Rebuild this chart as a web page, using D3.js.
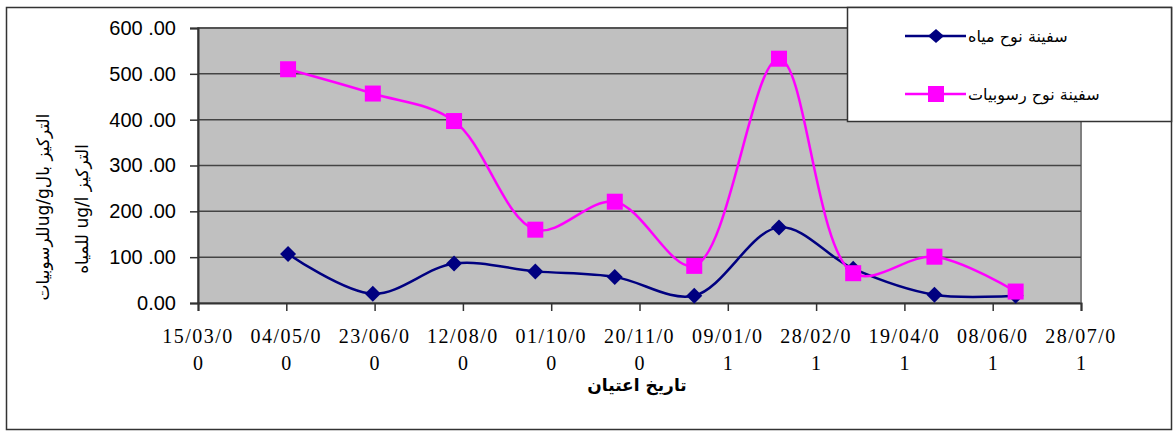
<!DOCTYPE html>
<html lang="ar">
<head>
<meta charset="UTF-8">
<script src="https://cdn.jsdelivr.net/npm/d3@7"></script>
<style>
  body { margin: 0; background: #fff; }
  svg { display: block; }
</style>
</head>
<body>
<script>
// ---------- data ----------
const sampleDates = ["2000-05-05", "2000-06-22", "2000-08-07", "2000-09-22", "2000-11-06",
                     "2000-12-21", "2001-02-07", "2001-03-21", "2001-05-06", "2001-06-21"];
const waterValues = [107, 20, 86, 69, 57, 16, 165, 75, 18, 16];
const sedimentValues = [510, 457, 397, 160, 221, 81, 533, 65, 101, 25];
const seriesNames = ["سفينة  نوح مياه", "سفينة نوح رسوبيات"];
const tickDates = ["2000-03-15", "2000-05-04", "2000-06-23", "2000-08-12", "2000-10-01", "2000-11-20",
                   "2001-01-09", "2001-02-28", "2001-04-19", "2001-06-08", "2001-07-28"];
const yTickValues = [0, 100, 200, 300, 400, 500, 600];
const yTickLabels = ["0.00", "100 .00", "200 .00", "300 .00", "400 .00", "500 .00", "600 .00"];
const xTitle = "تاريخ اعتيان";
const yTitle1 = "التركيز بالug/gللرسوبيات";
const yTitle2 = "التركيز ug/l للمياه";

// ---------- setup ----------
const W = 1173, H = 431;
const plot = { left: 198, right: 1081, top: 28, bottom: 303 };
const parse = d3.timeParse("%Y-%m-%d");

const svg = d3.select("body").append("svg")
    .attr("width", W).attr("height", H);

// outer chart border
svg.append("rect")
    .attr("x", 6.5).attr("y", 7.5)
    .attr("width", 1165).attr("height", 422)
    .attr("fill", "#fff").attr("stroke", "#333").attr("stroke-width", 1.5);

const x = d3.scaleTime()
    .domain([parse(tickDates[0]), parse(tickDates[tickDates.length - 1])])
    .range([plot.left, plot.right]);
const y = d3.scaleLinear().domain([0, 600]).range([plot.bottom, plot.top]);

// plot background
svg.append("rect")
    .attr("x", plot.left).attr("y", plot.top)
    .attr("width", plot.right - plot.left).attr("height", plot.bottom - plot.top)
    .attr("fill", "#c0c0c0").attr("stroke", "#808080").attr("stroke-width", 2);

// gridlines
svg.append("g").selectAll("line")
    .data(yTickValues.slice(1))
    .join("line")
    .attr("x1", plot.left).attr("x2", plot.right)
    .attr("y1", d => y(d)).attr("y2", d => y(d))
    .attr("stroke", "#444").attr("stroke-width", 1.5);

// y axis
const yAxis = svg.append("g")
    .attr("transform", `translate(${plot.left},0)`)
    .call(d3.axisLeft(y).tickValues(yTickValues).tickSize(8).tickFormat((d, i) => yTickLabels[i]));
yAxis.select(".domain").attr("stroke", "#333").attr("stroke-width", 2);
yAxis.selectAll(".tick line").attr("stroke", "#333").attr("stroke-width", 1.5);
yAxis.selectAll(".tick text")
    .attr("x", -22)
    .attr("font-family", "Liberation Sans, Arial, sans-serif")
    .attr("font-size", 20).attr("fill", "#000");

// x axis
const xAxis = svg.append("g")
    .attr("transform", `translate(0,${plot.bottom})`)
    .call(d3.axisBottom(x).tickValues(tickDates.map(parse)).tickSize(8).tickFormat(""));
xAxis.select(".domain").attr("stroke", "#333").attr("stroke-width", 2);
xAxis.selectAll(".tick line").attr("stroke", "#333").attr("stroke-width", 1.5);

const fmt = d3.timeFormat("%d/%m/%y");
const xl = svg.append("g").selectAll("text")
    .data(tickDates)
    .join("text")
    .attr("font-family", "Liberation Serif, Times New Roman, serif")
    .attr("font-size", 20).attr("text-anchor", "middle").attr("fill", "#000");
xl.append("tspan")
    .attr("x", d => x(parse(d))).attr("y", 343)
    .attr("letter-spacing", 1.5)
    .text(d => fmt(parse(d)).slice(0, 7));
xl.append("tspan")
    .attr("x", d => x(parse(d))).attr("y", 370)
    .text(d => fmt(parse(d)).slice(7));

// axis titles
svg.append("text")
    .attr("x", 637).attr("y", 391)
    .attr("text-anchor", "middle")
    .attr("font-family", "DejaVu Sans, sans-serif")
    .attr("font-weight", "bold").attr("font-size", 17)
    .text(xTitle);

svg.append("text")
    .attr("transform", "translate(49,207) rotate(-90)")
    .attr("text-anchor", "middle")
    .attr("direction", "rtl")
    .attr("font-family", "DejaVu Sans, sans-serif")
    .attr("font-size", 17)
    .text(yTitle1);
svg.append("text")
    .attr("transform", "translate(88,209) rotate(-90)")
    .attr("text-anchor", "middle")
    .attr("direction", "rtl")
    .attr("font-family", "DejaVu Sans, sans-serif")
    .attr("font-size", 17)
    .text(yTitle2);

// lines
const line = d3.line()
    .x(d => x(d.date)).y(d => y(d.v))
    .curve(d3.curveCatmullRom.alpha(0.5));

const water = sampleDates.map((d, i) => ({ date: parse(d), v: waterValues[i] }));
const sediment = sampleDates.map((d, i) => ({ date: parse(d), v: sedimentValues[i] }));

svg.append("path").datum(water)
    .attr("d", line).attr("fill", "none")
    .attr("stroke", "#000080").attr("stroke-width", 2.5);
svg.append("path").datum(sediment)
    .attr("d", line).attr("fill", "none")
    .attr("stroke", "#ff00ff").attr("stroke-width", 2.5);

svg.append("g").selectAll("path")
    .data(water)
    .join("path")
    .attr("transform", d => `translate(${x(d.date)},${y(d.v)})`)
    .attr("d", "M0,-8L8,0L0,8L-8,0Z")
    .attr("fill", "#000080");

svg.append("g").selectAll("rect")
    .data(sediment)
    .join("rect")
    .attr("x", d => x(d.date) - 8).attr("y", d => y(d.v) - 8)
    .attr("width", 16).attr("height", 16)
    .attr("fill", "#ff00ff");

// legend
const lg = svg.append("g");
lg.append("rect")
    .attr("x", 847.5).attr("y", 7.5)
    .attr("width", 324).attr("height", 114)
    .attr("fill", "#fff").attr("stroke", "#333").attr("stroke-width", 1.5);

const legendRows = [
    { name: seriesNames[0], color: "#000080", shape: "diamond", y: 36 },
    { name: seriesNames[1], color: "#ff00ff", shape: "square", y: 94 }
];
legendRows.forEach(r => {
    lg.append("line")
        .attr("x1", 905).attr("x2", 966)
        .attr("y1", r.y).attr("y2", r.y)
        .attr("stroke", r.color).attr("stroke-width", 2.5);
    if (r.shape === "diamond") {
        lg.append("path")
            .attr("transform", `translate(936,${r.y})`)
            .attr("d", "M0,-7L8,0L0,7L-8,0Z")
            .attr("fill", r.color);
    } else {
        lg.append("rect")
            .attr("x", 928).attr("y", r.y - 8)
            .attr("width", 16).attr("height", 16)
            .attr("fill", r.color);
    }
    lg.append("text")
        .attr("x", 968).attr("y", r.y)
        .attr("dominant-baseline", "central")
        .attr("direction", "ltr")
        .attr("font-family", "DejaVu Sans, sans-serif")
        .attr("font-size", 16)
        .text(r.name);
});
</script>
</body>
</html>
